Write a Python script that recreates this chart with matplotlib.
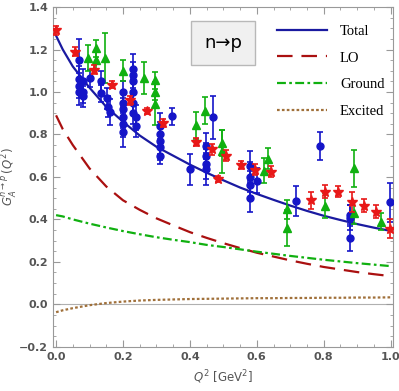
import numpy as np
import matplotlib
matplotlib.use("Agg")
from matplotlib import pyplot as plt
from matplotlib.ticker import MultipleLocator, FuncFormatter

# theory curves
q2_curve = [0.0, 0.02, 0.05, 0.1, 0.15, 0.2, 0.25, 0.3, 0.35, 0.4, 0.45, 0.5,
            0.55, 0.6, 0.65, 0.7, 0.75, 0.8, 0.85, 0.9, 0.95, 1.0]
total = [1.265, 1.20, 1.12, 1.02, 0.93, 0.86, 0.795, 0.742, 0.70, 0.658, 0.62, 0.584,
         0.55, 0.52, 0.492, 0.465, 0.44, 0.417, 0.397, 0.378, 0.361, 0.346]
lo = [0.89, 0.825, 0.75, 0.64, 0.555, 0.49, 0.445, 0.405, 0.372, 0.34, 0.313, 0.288,
      0.265, 0.243, 0.225, 0.207, 0.191, 0.176, 0.164, 0.152, 0.142, 0.133]
ground = [0.42, 0.414, 0.40, 0.38, 0.362, 0.345, 0.33, 0.316, 0.304, 0.293, 0.28, 0.27,
          0.259, 0.248, 0.238, 0.228, 0.219, 0.21, 0.202, 0.194, 0.187, 0.18]
excited = [-0.037, -0.028, -0.018, -0.004, 0.006, 0.013, 0.018, 0.021, 0.023, 0.025, 0.026, 0.027,
           0.028, 0.029, 0.029, 0.030, 0.030, 0.031, 0.031, 0.032, 0.032, 0.033]

# lattice / experimental points: Q2, value, error
blue_q2 = [0.07, 0.07, 0.07, 0.07, 0.08, 0.08, 0.08, 0.1, 0.135, 0.135, 0.153, 0.155, 0.16,
           0.2, 0.2, 0.2, 0.2, 0.2, 0.2, 0.23, 0.23, 0.23, 0.23, 0.23, 0.23, 0.24, 0.24,
           0.31, 0.31, 0.31, 0.31, 0.31, 0.347, 0.4, 0.448, 0.448, 0.448, 0.448, 0.47,
           0.58, 0.58, 0.58, 0.58, 0.6, 0.718, 0.788, 0.878, 0.878, 0.878, 0.997]
blue_val = [1.15, 1.06, 1.03, 1.0, 1.05, 1.0, 0.98, 1.064, 1.05, 0.995, 0.97, 0.93, 0.905,
            1.0, 0.95, 0.92, 0.88, 0.85, 0.81, 1.11, 1.08, 1.05, 1.0, 0.95, 0.9, 0.88, 0.84,
            0.84, 0.8, 0.77, 0.74, 0.70, 0.885, 0.635, 0.745, 0.70, 0.66, 0.637, 0.88,
            0.65, 0.6, 0.56, 0.503, 0.582, 0.487, 0.745, 0.42, 0.408, 0.314, 0.48]
blue_err = [0.1, 0.06, 0.06, 0.06, 0.06, 0.05, 0.05, 0.04, 0.05, 0.04, 0.05, 0.05, 0.06,
            0.05, 0.05, 0.05, 0.05, 0.06, 0.07, 0.07, 0.06, 0.06, 0.06, 0.05, 0.05, 0.06, 0.05,
            0.06, 0.06, 0.06, 0.06, 0.04, 0.04, 0.072, 0.06, 0.06, 0.07, 0.075, 0.1,
            0.07, 0.07, 0.07, 0.07, 0.06, 0.07, 0.065, 0.05, 0.06, 0.065, 0.09]

green_q2 = [0.094, 0.12, 0.12, 0.147, 0.199, 0.262, 0.295, 0.295, 0.295, 0.418, 0.445,
            0.495, 0.495, 0.62, 0.633, 0.69, 0.69, 0.805, 0.89, 0.89, 0.972]
green_val = [1.16, 1.205, 1.15, 1.16, 1.10, 1.064, 1.055, 1.0, 0.945, 0.843, 0.912,
             0.76, 0.72, 0.63, 0.685, 0.448, 0.36, 0.465, 0.64, 0.432, 0.388]
green_err = [0.06, 0.04, 0.04, 0.12, 0.05, 0.075, 0.04, 0.04, 0.1, 0.065, 0.063,
             0.06, 0.1, 0.06, 0.05, 0.045, 0.085, 0.06, 0.087, 0.055, 0.04]

red_q2 = [0.001, 0.056, 0.113, 0.167, 0.22, 0.272, 0.32, 0.417, 0.465, 0.484, 0.507,
          0.554, 0.596, 0.642, 0.763, 0.805, 0.842, 0.884, 0.92, 0.957, 0.997]
red_val = [1.29, 1.19, 1.105, 1.035, 0.96, 0.91, 0.855, 0.765, 0.73, 0.59, 0.70,
           0.656, 0.634, 0.625, 0.49, 0.53, 0.53, 0.482, 0.464, 0.437, 0.356]
red_err = [0.02, 0.02, 0.02, 0.015, 0.02, 0.015, 0.02, 0.02, 0.025, 0.015, 0.025,
           0.02, 0.025, 0.025, 0.04, 0.03, 0.025, 0.045, 0.03, 0.03, 0.045]

gray = "#555555"
fig = plt.figure(figsize=(3.99, 3.91), dpi=100)
ax = fig.add_axes([0.133, 0.113, 0.852, 0.869])

ax.axhline(0, color="#b0b0b0", lw=0.8, zorder=1)

ax.plot(q2_curve, total, color="#1a1aa0", lw=1.6, label="Total", zorder=3)
ax.plot(q2_curve, lo, color="#aa1010", lw=1.6, dashes=(7, 4), label="LO", zorder=3)
ax.plot(q2_curve, ground, color="#10b010", lw=1.6, dashes=(4, 1.5, 1.2, 1.5), label="Ground", zorder=3)
ax.plot(q2_curve, excited, color="#a0703a", lw=1.6, dashes=(1.2, 1.0), label="Excited", zorder=3)

ax.errorbar(blue_q2, blue_val, yerr=blue_err, fmt="o", color="#1515c8", ms=5,
            capsize=2.5, elinewidth=1.2, capthick=1.2, zorder=4)
ax.errorbar(green_q2, green_val, yerr=green_err, fmt="^", color="#10b010", ms=5.5,
            capsize=2.5, elinewidth=1.2, capthick=1.2, zorder=4)
ax.errorbar(red_q2, red_val, yerr=red_err, fmt="*", color="#e81818", ms=7,
            capsize=2.5, elinewidth=1.2, capthick=1.2, zorder=5)

ax.xaxis.set_major_locator(MultipleLocator(0.2))
ax.xaxis.set_minor_locator(MultipleLocator(0.05))
ax.yaxis.set_major_locator(MultipleLocator(0.2))
ax.yaxis.set_minor_locator(MultipleLocator(0.05))
ax.yaxis.set_major_formatter(FuncFormatter(lambda v, p: f"{v:.1f}".replace("-", "\u2212")))
ax.set_xlim(-0.009, 1.007)
ax.set_ylim(-0.2, 1.4)
ax.tick_params(which="both", direction="in", top=True, right=True, colors="#999999",
               labelcolor=gray, labelsize=8)
ax.tick_params(which="major", length=5, width=0.8)
ax.tick_params(which="minor", length=2.5, width=0.6)
for lab in ax.get_xticklabels() + ax.get_yticklabels():
    lab.set_fontweight("bold")
for s in ax.spines.values():
    s.set_color("#999999")
    s.set_linewidth(0.8)

ax.set_xlabel(r"$Q^2$ [GeV$^2$]", color=gray, fontsize=8.5, labelpad=5)
ax.set_ylabel(r"$G_A^{n\rightarrow p}\,(Q^2)$", color=gray, fontsize=8.5)
ax.yaxis.set_label_coords(-0.097, 0.5)

ax.text(0.5, 0.894, "n\u2192p", transform=ax.transAxes, fontsize=13, ha="center", va="center",
        bbox=dict(boxstyle="square,pad=0.7", fc="#f0f0f0", ec="#b8b8b8", lw=1))

ax.legend(loc="upper right", bbox_to_anchor=(0.975, 0.948), frameon=False,
          prop={"family": "Liberation Serif", "size": 10.5}, handlelength=3.4,
          handletextpad=0.9, labelspacing=0.92, borderaxespad=0, borderpad=0)

fig.savefig("out.png", dpi=100)
